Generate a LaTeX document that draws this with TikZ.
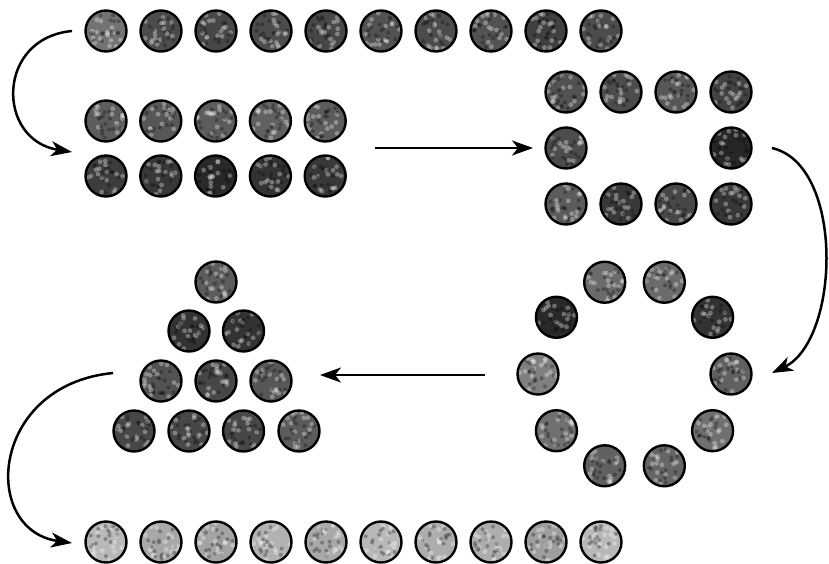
\documentclass[tikz,border=0pt]{standalone}
\usetikzlibrary{arrows.meta}
\pgfmathsetseed{12345}
\tikzset{
  coin/.style={circle, draw=black, line width=2.4pt, minimum size=41pt, inner sep=0pt, fill=black!#1,
    path picture={
      \foreach \k in {1,...,16}{
        \pgfmathsetmacro\ang{360*rnd}
        \pgfmathsetmacro\rad{19*sqrt(rnd)}
        \fill[white, opacity=0.32] ([shift={(\ang:\rad pt)}]path picture bounding box.center) circle (2.4pt);
        \pgfmathsetmacro\angb{360*rnd}
        \pgfmathsetmacro\radb{17*sqrt(rnd)}
        \fill[black, opacity=0.28] ([shift={(\angb:\radb pt)}]path picture bounding box.center) circle (2pt);
      }
    }},
  coin/.default=60,
  flow/.style={line width=2.5pt, -{Stealth[length=21pt,width=15pt,inset=6pt]}}
}
\begin{document}
\begin{tikzpicture}[x=1pt,y=-1pt]
\useasboundingbox (0,0) rectangle (829,563);
% top row of ten
\foreach \i/\s in {0/55,1/70,2/72,3/70,4/72,5/68,6/70,7/68,8/75,9/70}
  \node[coin=\s] (t\i) at ({106+55*\i},31) {};
% two rows of five
\foreach \i/\s in {0/64,1/66,2/64,3/62,4/64}
  \node[coin=\s] (p\i) at ({106+54.8*\i},121) {};
\foreach \i/\s in {0/76,1/78,2/84,3/80,4/78}
  \node[coin=\s] (q\i) at ({106+54.8*\i},176) {};
% square ring
\foreach \i/\s in {0/68,1/70,2/66,3/74}
  \node[coin=\s] (sa\i) at ({566+55*\i},92) {};
\node[coin=70] (sl) at (566,148) {};
\node[coin=85] (sr) at (731,148) {};
\foreach \i/\s in {0/64,1/78,2/72,3/78}
  \node[coin=\s] (sb\i) at ({566+55*\i},204) {};
% circle ring
\foreach \a/\s in {0/62,36/80,72/58,108/58,144/84,180/50,216/56,252/62,288/60,324/56}
  \node[coin=\s] (o\a) at ({634.5+96.5*cos(\a)},{374-96.5*sin(\a)}) {};
% triangle
\node[coin=64] (r0) at (216,282) {};
\node[coin=80] (r1) at (189,331) {};
\node[coin=80] (r2) at (243.5,331) {};
\node[coin=68] (r3) at (161,381) {};
\node[coin=72] (r4) at (216,381) {};
\node[coin=66] (r5) at (271,381) {};
\node[coin=72] (r6) at (134,431) {};
\node[coin=72] (r7) at (189,431) {};
\node[coin=72] (r8) at (243.5,431) {};
\node[coin=64] (r9) at (299,431) {};
% bottom row of ten
\foreach \i/\s in {0/28,1/34,2/36,3/30,4/34,5/28,6/32,7/32,8/38,9/28}
  \node[coin=\s] (b\i) at ({106+55*\i},542) {};
% connectors
\coordinate (a1s) at (72,31);
\coordinate (a1e) at (72,152);
\draw[flow] (a1s) .. controls (-4,38) and (-4,140) .. (a1e);
\coordinate (a2s) at (375,148);
\coordinate (a2e) at (533,148);
\draw[flow] (a2s) -- (a2e);
\coordinate (a3s) at (772,148);
\coordinate (a3e) at (772,373);
\draw[flow] (a3s) .. controls (845,165) and (840,340) .. (a3e);
\coordinate (a4s) at (485,375);
\coordinate (a4e) at (320,375);
\draw[flow] (a4s) -- (a4e);
\coordinate (a5s) at (113,373);
\coordinate (a5e) at (72,543);
\draw[flow] (a5s) .. controls (-10,385) and (-20,530) .. (a5e);
\end{tikzpicture}
\end{document}
